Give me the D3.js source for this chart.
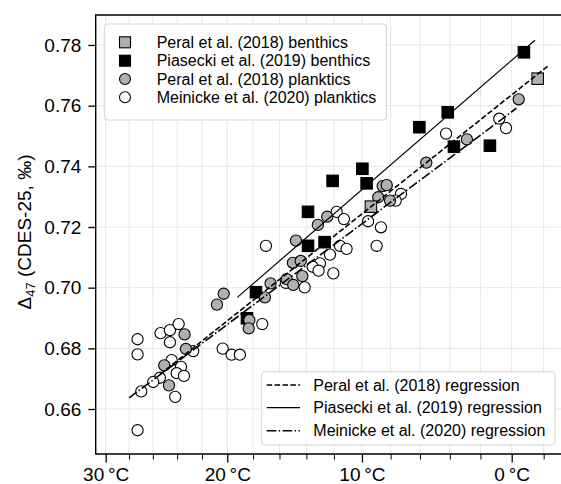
<!DOCTYPE html>
<html><head><meta charset="utf-8">
<script src="https://cdn.jsdelivr.net/npm/d3@7"></script>
<style>
body{margin:0;background:#fff}
svg{display:block}
text{font-family:"Liberation Sans",Arial,Helvetica,sans-serif;fill:#000}
</style>
</head><body>
<svg id="c" width="561" height="484"></svg>
<script>
// ---------- data (temperature in °C, Δ47 in ‰) ----------
const peralBenthicT = [9.37, -1.63];
const peralBenthicD = [0.7267, 0.7689];

const piaseckiT = [-0.77, 4.14, 6.04, 3.73, 1.39, 9.97, 12.09, 9.67, 13.88, 13.88, 12.67, 17.78, 18.47];
const piaseckiD = [0.7776, 0.7578, 0.7529, 0.7465, 0.7468, 0.7392, 0.7352, 0.7344, 0.7250, 0.7138, 0.7150, 0.6985, 0.6899];

const peralPlankT = [20.28, 20.81, 23.40, 23.29, 25.06, 24.67, 18.29, 18.34, 17.10, 8.55, 8.27, 8.86, 8.04,
  12.48, 13.16, 14.77, 15.00, 14.42, 14.30, 15.46, 16.67, 14.97, -0.44, 2.88, 5.57];
const peralPlankD = [0.6980, 0.6944, 0.6846, 0.6798, 0.6744, 0.6678, 0.6893, 0.6866, 0.6968, 0.7335, 0.7338, 0.7298, 0.7287,
  0.7234, 0.7207, 0.7155, 0.7082, 0.7088, 0.7038, 0.7028, 0.7014, 0.7009, 0.7621, 0.7489, 0.7412];

const meinickeT = [27.28, 27.28, 25.36, 24.59, 23.88, 24.59, 24.45, 23.69, 24.04, 23.45, 25.42, 25.97, 26.97, 24.16, 27.28,
  22.70, 20.36, 19.66, 19.02, 17.30, 11.80, 11.28, 9.57, 8.67, 7.29, 7.65, 17.02, 11.56, 11.09, 12.28,
  8.97, 13.01, 13.54, 13.11, 12.04, 14.13, 15.52, 0.79, 0.36, 4.25];
const meinickeD = [0.6830, 0.6780, 0.6850, 0.6860, 0.6880, 0.6820, 0.6761, 0.6739, 0.6718, 0.6709, 0.6703, 0.6689, 0.6658, 0.6640, 0.6530,
  0.6791, 0.6799, 0.6779, 0.6779, 0.6880, 0.7250, 0.7226, 0.7219, 0.7199, 0.7309, 0.7287, 0.7138, 0.7138, 0.7128, 0.7109,
  0.7138, 0.7080, 0.7069, 0.7056, 0.7047, 0.7001, 0.7016, 0.7557, 0.7526, 0.7508];

// regressions: Δ47 = slope * 1e6/T² + intercept, drawn over [tFrom, tTo] °C
const regNames = ["Peral et al. (2018) regression", "Piasecki et al. (2019) regression", "Meinicke et al. (2020) regression"];
const regSlope = [0.04219, 0.04586, 0.0397];
const regIntercept = [0.1981, 0.1603, 0.2259];
const regFrom = [25.42, 19.22, 28.0];
const regTo = [-2.29, -1.46, -0.3];

const scatterNames = ["Peral et al. (2018) benthics", "Piasecki et al. (2019) benthics",
  "Peral et al. (2018) planktics", "Meinicke et al. (2020) planktics"];

const majorTicksC = [30, 20, 10, 0];
const minorTicksC = [28, 26, 24, 22, 18, 16, 14, 12, 8, 6, 4, 2, -2];
const yTicks = [0.66, 0.68, 0.70, 0.72, 0.74, 0.76, 0.78];

// ---------- scales ----------
const inv = t => 1e6 / Math.pow(t + 273.15, 2);
const L = 95.7, T = 15, B = 454, R = 566;
const x = d3.scaleLinear().domain([inv(30), inv(0)]).range([105.7, 511.7]);
const y = d3.scaleLinear().domain([0.66, 0.78]).range([409, 45]);

const svg = d3.select("#c");
const FONT = 19, LFONT = 16;

// grid
const g = svg.append("g");
g.selectAll("line.gx").data(majorTicksC.concat(minorTicksC)).join("line")
  .attr("x1", d => x(inv(d))).attr("x2", d => x(inv(d)))
  .attr("y1", T).attr("y2", B)
  .attr("stroke", "#e6e6e6").attr("stroke-width", 1);
g.selectAll("line.gy").data(yTicks).join("line")
  .attr("x1", L).attr("x2", R)
  .attr("y1", d => y(d)).attr("y2", d => y(d))
  .attr("stroke", "#e6e6e6").attr("stroke-width", 1);

// scatter
const pts = (tArr, dArr) => tArr.map((t, i) => [x(inv(t)), y(dArr[i])]);
const plot = svg.append("g");
function circles(data, fill) {
  plot.append("g").selectAll("circle").data(data).join("circle")
    .attr("cx", d => d[0]).attr("cy", d => d[1]).attr("r", 5.6)
    .attr("fill", fill).attr("stroke", "#000").attr("stroke-width", 1.1);
}
function squares(data, fill) {
  const s = 11.5;
  plot.append("g").selectAll("rect").data(data).join("rect")
    .attr("x", d => d[0] - s / 2).attr("y", d => d[1] - s / 2).attr("width", s).attr("height", s)
    .attr("fill", fill).attr("stroke", "#000").attr("stroke-width", 1.1);
}
circles(pts(meinickeT, meinickeD), "#fff");
squares(pts(piaseckiT, piaseckiD), "#000");
circles(pts(peralPlankT, peralPlankD), "#b0b0b0");
squares(pts(peralBenthicT, peralBenthicD), "#b0b0b0");

// regression lines
const dashes = ["5.5,2.4", null, "9.6,2.4,1.5,2.4"];
const widths = [1.6, 1.2, 1.6];
const line = d3.line().x(d => x(d[0])).y(d => y(d[1]));
regNames.forEach((n, i) => {
  const u0 = inv(regFrom[i]), u1 = inv(regTo[i]);
  const dat = [[u0, regSlope[i] * u0 + regIntercept[i]], [u1, regSlope[i] * u1 + regIntercept[i]]];
  svg.append("path").attr("d", line(dat)).attr("fill", "none").attr("stroke", "#000")
    .attr("stroke-width", widths[i]).attr("stroke-dasharray", dashes[i]);
});

// frame
svg.append("path").attr("d", `M${R},${T}H${L}V${B}H${R}`).attr("fill", "none")
  .attr("stroke", "#000").attr("stroke-width", 1.4);

// axes
const xa = svg.append("g").attr("transform", `translate(0,${B})`)
  .call(d3.axisBottom(x).tickValues(majorTicksC.map(inv)).tickSize(8.5).tickPadding(5)
    .tickFormat(u => { const t = Math.round(1000 / Math.sqrt(u) - 273.15); return t + "\u2009°C"; }));
xa.select(".domain").remove();
xa.selectAll("line").attr("stroke-width", 1.3);
xa.selectAll("text").attr("font-size", FONT).style("font-family", '"Liberation Sans",Arial,sans-serif');
const xm = svg.append("g").attr("transform", `translate(0,${B})`)
  .call(d3.axisBottom(x).tickValues(minorTicksC.map(inv)).tickSize(5.5).tickFormat(""));
xm.select(".domain").remove();
xm.selectAll("line").attr("stroke-width", 1);

const ya = svg.append("g").attr("transform", `translate(${L},0)`)
  .call(d3.axisLeft(y).tickValues(yTicks).tickSize(7.4).tickPadding(7).tickFormat(d3.format(".2f")));
ya.select(".domain").remove();
ya.selectAll("line").attr("stroke-width", 1.3);
ya.selectAll("text").attr("font-size", FONT).style("font-family", '"Liberation Sans",Arial,sans-serif');

// y label
const yl = svg.append("text").attr("transform", "translate(31,232) rotate(-90)")
  .attr("text-anchor", "middle").attr("font-size", FONT);
yl.append("tspan").text("Δ");
yl.append("tspan").text("47").attr("font-size", 13).attr("dy", 4);
yl.append("tspan").text(" (CDES-25, ‰)").attr("dy", -4);

// legend 1 (markers)
const lg1 = svg.append("g");
const box1 = lg1.append("rect").attr("x", 104.3).attr("y", 24).attr("height", 96).attr("rx", 3)
  .attr("fill", "#fff").attr("fill-opacity", 0.85).attr("stroke", "#d4d4d4").attr("stroke-width", 1);
const rows1 = [42.3, 60.7, 79, 97.3];
const mk = [["sq", "#b0b0b0"], ["sq", "#000"], ["ci", "#b0b0b0"], ["ci", "#fff"]];
let maxEnd = 0;
scatterNames.forEach((n, i) => {
  const cy = rows1[i];
  if (mk[i][0] === "sq") lg1.append("rect").attr("x", 125 - 5.5).attr("y", cy - 5.5).attr("width", 11).attr("height", 11)
    .attr("fill", mk[i][1]).attr("stroke", "#000").attr("stroke-width", 1.1);
  else lg1.append("circle").attr("cx", 125).attr("cy", cy).attr("r", 5.5)
    .attr("fill", mk[i][1]).attr("stroke", "#000").attr("stroke-width", 1.1);
  const t = lg1.append("text").attr("x", 156.7).attr("y", cy).attr("dy", "0.35em").attr("font-size", LFONT).text(n);
  maxEnd = Math.max(maxEnd, 156.7 + t.node().getComputedTextLength());
});
box1.attr("width", maxEnd + 10 - 104.3);

// legend 2 (lines)
const lg2 = svg.append("g");
lg2.append("rect").attr("x", 261.7).attr("y", 371.7).attr("width", 555 - 261.7).attr("height", 445 - 371.7).attr("rx", 3)
  .attr("fill", "#fff").attr("fill-opacity", 0.85).attr("stroke", "#d4d4d4").attr("stroke-width", 1);
const rows2 = [385, 407.7, 430.7];
regNames.forEach((n, i) => {
  const cy = rows2[i];
  lg2.append("line").attr("x1", 266.7).attr("x2", 300).attr("y1", cy).attr("y2", cy)
    .attr("stroke", "#000").attr("stroke-width", widths[i]).attr("stroke-dasharray", dashes[i]);
  lg2.append("text").attr("x", 313.3).attr("y", cy).attr("dy", "0.35em").attr("font-size", LFONT).text(n);
});
</script>
</body></html>
